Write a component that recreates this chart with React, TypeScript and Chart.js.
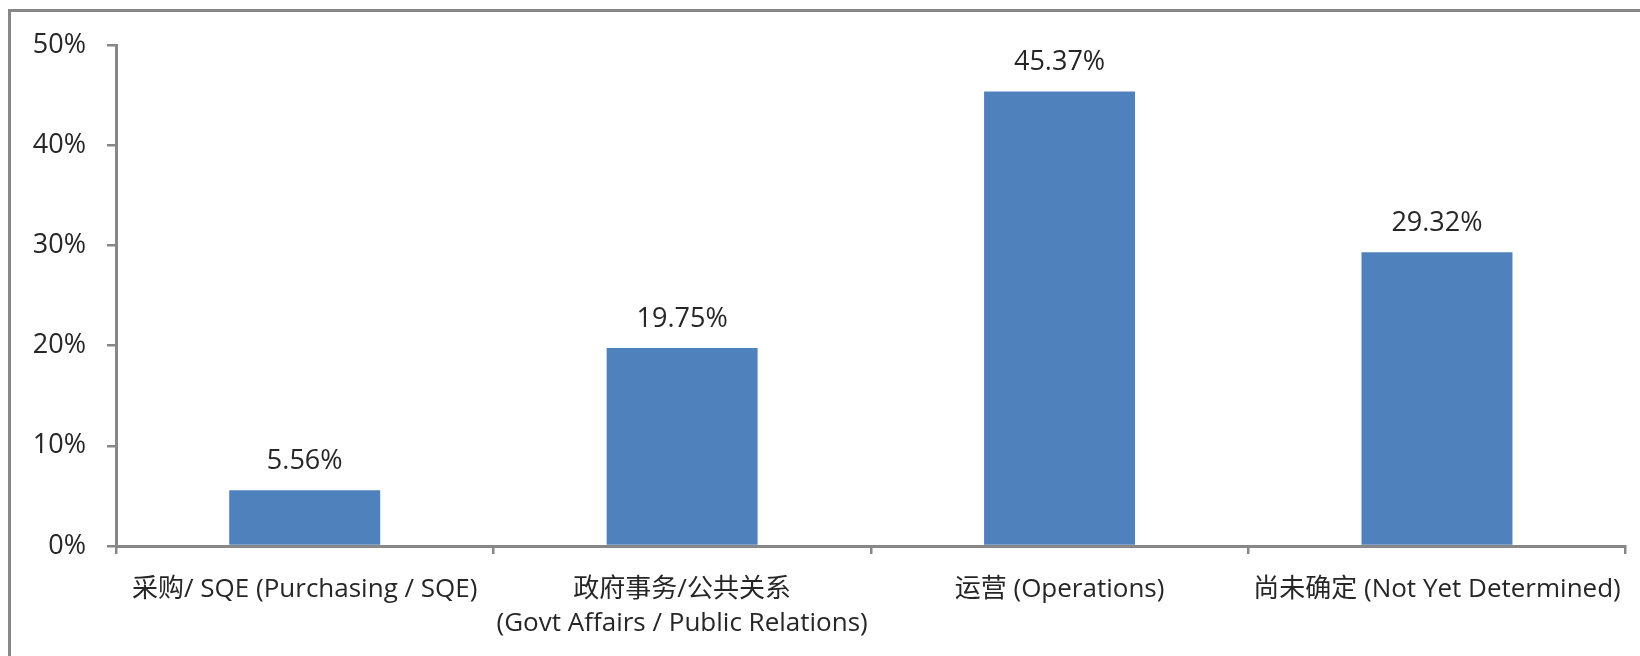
import React, { useEffect, useRef } from "react";
import { Chart, registerables } from "chart.js";

Chart.register(...registerables);

const categories: (string | string[])[] = [
  "采购/ SQE (Purchasing / SQE)",
  ["政府事务/公共关系", "(Govt Affairs / Public Relations)"],
  "运营 (Operations)",
  "尚未确定 (Not Yet Determined)",
];
const values: number[] = [5.56, 19.75, 45.37, 29.32];
const yTickMin = 0;
const yTickMax = 50;
const yTickStep = 10;

const FONT = "'Open Sans', 'Noto Sans CJK SC', sans-serif";
const TEXT = "#262626";
const AXIS = "#878787";

const dataLabels = {
  id: "dataLabels",
  afterDatasetsDraw(chart: any) {
    const ctx = chart.ctx;
    const meta = chart.getDatasetMeta(0);
    ctx.save();
    ctx.font = `27px ${FONT}`;
    ctx.fillStyle = TEXT;
    ctx.textAlign = "center";
    ctx.textBaseline = "alphabetic";
    meta.data.forEach((bar: any, i: number) => {
      const v = chart.data.datasets[0].data[i] as number;
      ctx.fillText(v.toFixed(2) + "%", bar.x, bar.y - 21);
    });
    ctx.restore();
  },
};

export default function App() {
  const ref = useRef<HTMLCanvasElement>(null);
  useEffect(() => {
    if (!ref.current) return;
    const chart = new Chart(ref.current, {
      type: "bar",
      data: {
        labels: categories,
        datasets: [
          {
            data: values,
            backgroundColor: "#4F81BD",
            borderWidth: 0,
            barPercentage: 0.4,
            categoryPercentage: 1,
          },
        ],
      },
      options: {
        animation: false,
        responsive: false,
        maintainAspectRatio: false,
        layout: { padding: { left: 0, top: 45, right: 10, bottom: 0 } },
        plugins: { legend: { display: false }, tooltip: { enabled: false } },
        scales: {
          x: {
            offset: true,
            afterFit: (s: any) => {
              s.height = 110;
            },
            grid: {
              offset: true,
              drawOnChartArea: false,
              drawTicks: true,
              tickLength: 8,
              color: AXIS,
              lineWidth: 2.5,
            },
            border: { display: true, color: AXIS, width: 3 },
            ticks: {
              color: TEXT,
              font: { family: FONT, size: 26, lineHeight: 1.33 },
              padding: 18,
              maxRotation: 0,
              autoSkip: false,
            },
          },
          y: {
            min: yTickMin,
            max: yTickMax,
            afterFit: (s: any) => {
              s.width = 116;
            },
            grid: {
              drawOnChartArea: false,
              drawTicks: true,
              tickLength: 9,
              color: AXIS,
              lineWidth: 2.5,
            },
            border: { display: true, color: AXIS, width: 3 },
            ticks: {
              stepSize: yTickStep,
              color: TEXT,
              font: { family: FONT, size: 27 },
              padding: 21,
              callback: (v: any) => v + "%",
            },
          },
        },
      },
      plugins: [dataLabels],
    });
    return () => chart.destroy();
  }, []);
  return (
    <div style={{ position: "absolute", left: 0, top: 0, width: 1640, height: 656, overflow: "hidden", background: "#fff" }}>
      <div
        style={{
          position: "absolute",
          left: 8,
          top: 9,
          width: 1700,
          height: 700,
          borderLeft: `3px solid ${AXIS}`,
          borderTop: `3px solid ${AXIS}`,
        }}
      />
      <canvas ref={ref} width={1640} height={656} style={{ position: "absolute", left: 0, top: 0 }} />
    </div>
  );
}
